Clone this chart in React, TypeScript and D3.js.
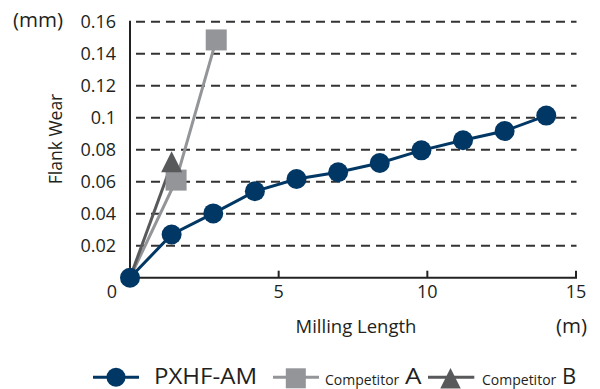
import React from "react";
import * as d3 from "d3";

const pxhfX = [0, 1.4, 2.8, 4.2, 5.6, 7.0, 8.4, 9.8, 11.2, 12.6, 14.0];
const pxhfY = [0, 0.027, 0.0402, 0.054, 0.0617, 0.0659, 0.0717, 0.0796, 0.0859, 0.0917, 0.1013];
const compAX = [0, 1.55, 2.9];
const compAY = [0, 0.061, 0.1486];
const compBX = [0, 1.4];
const compBY = [0, 0.0711];
const yTicks = [0.02, 0.04, 0.06, 0.08, 0.1, 0.12, 0.14, 0.16];
const xTicks = [5, 10, 15];

const NAVY = "#003764";
const GRAY_A = "#939598";
const GRAY_B = "#58595b";
const TEXT = "#231f20";
const FONT = "'Open Sans', 'Noto Sans', sans-serif";

export default function App() {
  const x = d3.scaleLinear().domain([0, 15]).range([130, 576]);
  const y = d3.scaleLinear().domain([0, 0.16]).range([277.7, 21.7]);
  const line = d3.line<[number, number]>().x((d) => x(d[0])).y((d) => y(d[1]));
  const pxhf = pxhfX.map((v, i) => [v, pxhfY[i]] as [number, number]);
  const a = compAX.map((v, i) => [v, compAY[i]] as [number, number]);
  const b = compBX.map((v, i) => [v, compBY[i]] as [number, number]);
  const tri = (cx: number, cy: number, s: number) =>
    `M${cx},${cy - s * 0.6}L${cx + s * 0.5},${cy + s * 0.4}L${cx - s * 0.5},${cy + s * 0.4}Z`;

  return (
    <svg width={600} height={389} style={{ position: "absolute", left: 0, top: 0, background: "#fff" }} fontFamily={FONT}>
      {yTicks.map((t) => (
        <line key={t} x1={131} x2={576.5} y1={y(t)} y2={y(t)} stroke="#333" strokeWidth={2}
          strokeDasharray="9 6" strokeDashoffset={10} />
      ))}
      <line x1={130} x2={130} y1={y(0.16) - 1} y2={y(0)} stroke="#222" strokeWidth={2} />
      <line x1={130} x2={577} y1={y(0)} y2={y(0)} stroke="#222" strokeWidth={2} />
      {xTicks.map((t) => (
        <line key={t} x1={x(t)} x2={x(t)} y1={y(0)} y2={y(0) - 7} stroke="#222" strokeWidth={2} />
      ))}
      {yTicks.map((t) => (
        <text key={t} x={116} y={y(t) + 6.3} textAnchor="end" fontSize={18} fill={TEXT}>
          {String(+t.toFixed(2))}
        </text>
      ))}
      <text x={117} y={298} textAnchor="end" fontSize={18} fill={TEXT}>0</text>
      {xTicks.map((t) => (
        <text key={t} x={x(t)} y={298} textAnchor="middle" fontSize={18} fill={TEXT}>{t}</text>
      ))}
      <text x={13} y={27} fontSize={20.5} fill={TEXT}>(mm)</text>
      <text transform="translate(61.5,139) rotate(-90)" textAnchor="middle" fontSize={17.5} fill={TEXT}>Flank Wear</text>
      <text x={356} y={333} textAnchor="middle" fontSize={18.5} fill={TEXT}>Milling Length</text>
      <text x={587} y={333} textAnchor="end" fontSize={20.5} fill={TEXT}>(m)</text>

      <path d={line(a) || ""} fill="none" stroke={GRAY_A} strokeWidth={3} />
      <path d={line(b) || ""} fill="none" stroke={GRAY_B} strokeWidth={3} />
      <path d={line(pxhf) || ""} fill="none" stroke={NAVY} strokeWidth={3} />
      {a.slice(1).map((d, i) => (
        <rect key={i} x={x(d[0]) - 10.5} y={y(d[1]) - 10.5} width={21} height={21} fill={GRAY_A} />
      ))}
      {b.slice(1).map((d, i) => (
        <path key={i} d={tri(x(d[0]), y(d[1]), 21)} fill={GRAY_B} />
      ))}
      {pxhf.map((d, i) => (
        <circle key={i} cx={x(d[0])} cy={y(d[1])} r={10} fill={NAVY} />
      ))}

      {/* Legend */}
      <line x1={93} x2={139} y1={377.3} y2={377.3} stroke={NAVY} strokeWidth={3} />
      <circle cx={116} cy={377.3} r={9.5} fill={NAVY} />
      <text x={154} y={383.5} fontSize={22} fill={TEXT} textLength={103} lengthAdjust="spacingAndGlyphs">PXHF-AM</text>
      <line x1={273} x2={319} y1={377.3} y2={377.3} stroke={GRAY_A} strokeWidth={3} />
      <rect x={285.8} y={368.3} width={20} height={20} fill={GRAY_A} />
      <text x={325} y={385} fontSize={14} fill={TEXT}>Competitor</text>
      <text x={405} y={383.5} fontSize={22} fill={TEXT} textLength={16.5} lengthAdjust="spacingAndGlyphs">A</text>
      <line x1={428} x2={474.3} y1={377.3} y2={377.3} stroke={GRAY_B} strokeWidth={3} />
      <path d={tri(450.5, 380.3, 20.5)} fill={GRAY_B} />
      <text x={482} y={385} fontSize={14} fill={TEXT}>Competitor</text>
      <text x={562} y={383.5} fontSize={22} fill={TEXT}>B</text>
    </svg>
  );
}
